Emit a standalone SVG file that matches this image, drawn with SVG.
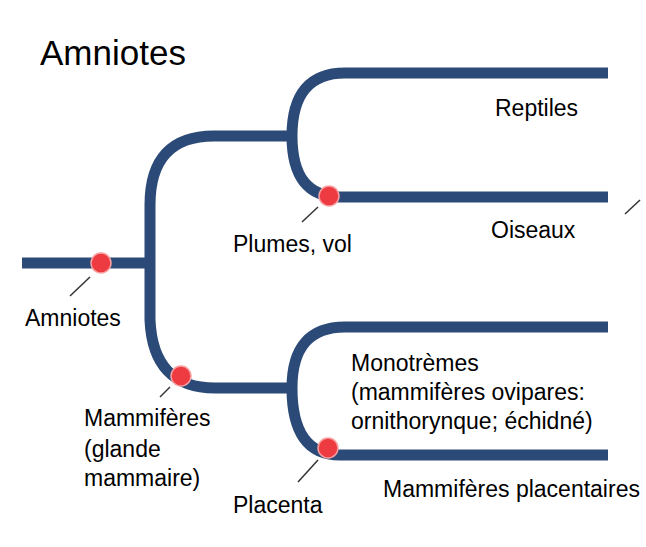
<svg xmlns="http://www.w3.org/2000/svg" width="646" height="547" viewBox="0 0 646 547">
<style>
.br{fill:none;stroke:#2c4a78;stroke-width:11;stroke-linejoin:round}
.ld{stroke:#333;stroke-width:1.5}
.dot{fill:#ee3b42;stroke:#f6a0a0;stroke-width:1.5}
text{font-family:"Liberation Sans",Arial,sans-serif;font-size:23px;fill:#000}
</style>
<rect width="646" height="547" fill="#fff"/>
<g id="connectors">
<path class="br" d="M22,263 L150,263"/>
<path class="br" d="M150,263 L150,205 Q150,136 214,136 L292,136"/>
<path class="br" d="M292,136 Q292,73 345,73 L608,73"/>
<path class="br" d="M292,136 Q292,197 340,197 L608,197"/>
<path class="br" d="M150,263 L150,320 Q153,388 215,388 L292,388"/>
<path class="br" d="M292,388 Q292,327 345,327 L608,327"/>
<path class="br" d="M292,388 Q292,455 340,455 L608,455"/>
<line class="ld" x1="90" y1="277" x2="70" y2="296"/>
<line class="ld" x1="318" y1="207" x2="302" y2="222"/>
<line class="ld" x1="170" y1="387" x2="160" y2="397"/>
<line class="ld" x1="318" y1="460" x2="298" y2="482"/>
<line class="ld" x1="625" y1="214" x2="640" y2="200"/>
</g>
<text x="40" y="65" style="font-size:35px">Amniotes</text>
<g id="n-amniotes"><circle class="dot" cx="101" cy="263" r="10"/><text x="25" y="326">Amniotes</text></g>
<g id="n-plumes"><circle class="dot" cx="329" cy="196" r="10"/><text x="233" y="252">Plumes, vol</text></g>
<g id="n-mammiferes"><circle class="dot" cx="181" cy="376" r="10"/><text x="84" y="426">Mammifères</text><text x="84" y="457">(glande</text><text x="84" y="486">mammaire)</text></g>
<g id="n-placenta"><circle class="dot" cx="328" cy="448" r="10"/><text x="233" y="513">Placenta</text></g>
<g id="n-reptiles"><text x="495" y="116">Reptiles</text></g>
<g id="n-oiseaux"><text x="491" y="238">Oiseaux</text></g>
<g id="n-monotremes"><text x="351" y="371">Monotrèmes</text><text x="351" y="400">(mammifères ovipares:</text><text x="351" y="429">ornithorynque; échidné)</text></g>
<g id="n-placentaires"><text x="383" y="497">Mammifères placentaires</text></g>
</svg>
